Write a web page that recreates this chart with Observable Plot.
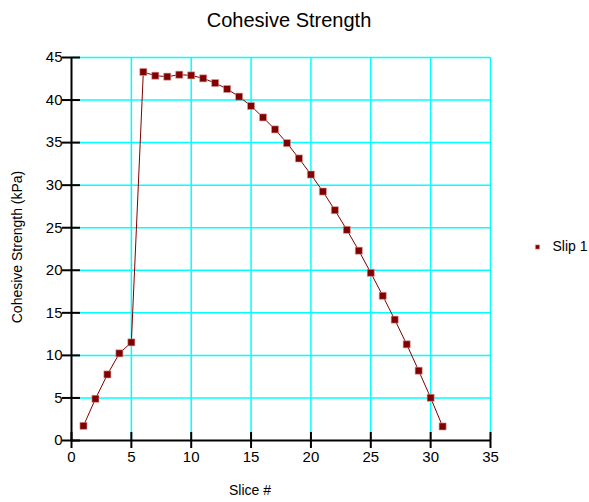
<!DOCTYPE html>
<html>
<head>
<meta charset="utf-8">
<script src="https://cdn.jsdelivr.net/npm/d3@7"></script>
<script src="https://cdn.jsdelivr.net/npm/@observablehq/plot@0.6"></script>
<style>
  html, body { margin: 0; padding: 0; background: #fff; }
  #chart { width: 589px; height: 502px; }
</style>
</head>
<body>
<div id="chart"></div>
<script>
const slices = [1,2,3,4,5,6,7,8,9,10,11,12,13,14,15,16,17,18,19,20,21,22,23,24,25,26,27,28,29,30,31];
const strength = [1.72, 4.9, 7.76, 10.24, 11.53, 43.3, 42.86, 42.75, 42.98, 42.9, 42.55, 42.0, 41.3, 40.4, 39.3, 37.96, 36.55, 34.94, 33.14, 31.25, 29.25, 27.06, 24.75, 22.3, 19.7, 17.0, 14.2, 11.3, 8.2, 5.02, 1.65];
const xTicks = [0,5,10,15,20,25,30,35];
const yTicks = [0,5,10,15,20,25,30,35,40,45];
const seriesName = "Slip 1";
const title = "Cohesive Strength";
const xLabel = "Slice #";
const yLabel = "Cohesive Strength (kPa)";

const data = slices.map((s, i) => ({slice: s, value: strength[i]}));
const red = "#800000";
const font = "Liberation Sans, Arial, sans-serif";

const chart = Plot.plot({
  width: 589,
  height: 502,
  marginLeft: 71,
  marginRight: 99,
  marginTop: 57,
  marginBottom: 62,
  style: {fontFamily: font, background: "#fff", color: "#000"},
  x: {domain: [0, 35]},
  y: {domain: [0, 45]},
  marks: [
    Plot.gridX(xTicks.filter(d => d > 0), {stroke: "#00ffff", strokeOpacity: 1, strokeWidth: 1.5}),
    Plot.gridY(yTicks.filter(d => d > 0), {stroke: "#00ffff", strokeOpacity: 1, strokeWidth: 1.5}),
    Plot.axisX(xTicks, {tickSize: 8, tickPadding: 3, fontSize: 15, strokeWidth: 2, stroke: "#000", label: null}),
    Plot.axisY(yTicks, {tickSize: 9, tickPadding: 0, fontSize: 15, strokeWidth: 2, stroke: "#000", label: null}),
    Plot.ruleX(xTicks, {x: d => d, y1: 0, y2: 0, insetTop: -8, stroke: "#000", strokeWidth: 2}),
    Plot.ruleY(yTicks, {y: d => d, x1: 0, x2: 0, insetRight: -9, stroke: "#000", strokeWidth: 2}),
    Plot.ruleX([0], {stroke: "#000", strokeWidth: 2}),
    Plot.ruleY([0], {stroke: "#000", strokeWidth: 2}),
    Plot.line(data, {x: "slice", y: "value", stroke: red, strokeWidth: 1}),
    Plot.dot(data, {x: "slice", y: "value", symbol: "square", r: 4, fill: red, stroke: "#e0a0a0", strokeWidth: 0.6}),
    Plot.text([title], {frameAnchor: "top", dx: 8, dy: -45, fontSize: 20, fill: "#000"}),
    Plot.text([xLabel], {frameAnchor: "bottom", dx: -31, dy: 54, fontSize: 14, fill: "#000"}),
    Plot.text([yLabel], {frameAnchor: "left", textAnchor: "middle", dx: -54, dy: -2, rotate: -90, fontSize: 14, fill: "#000"}),
    Plot.dot([seriesName], {frameAnchor: "right", dx: 47, dy: -2, symbol: "square", r: 2.4, fill: red, stroke: "#e0a0a0", strokeWidth: 0.6}),
    Plot.text([seriesName], {frameAnchor: "right", dx: 62, dy: -2, textAnchor: "start", fontSize: 14, fill: "#000"})
  ]
});
document.getElementById("chart").appendChild(chart);
</script>
</body>
</html>
